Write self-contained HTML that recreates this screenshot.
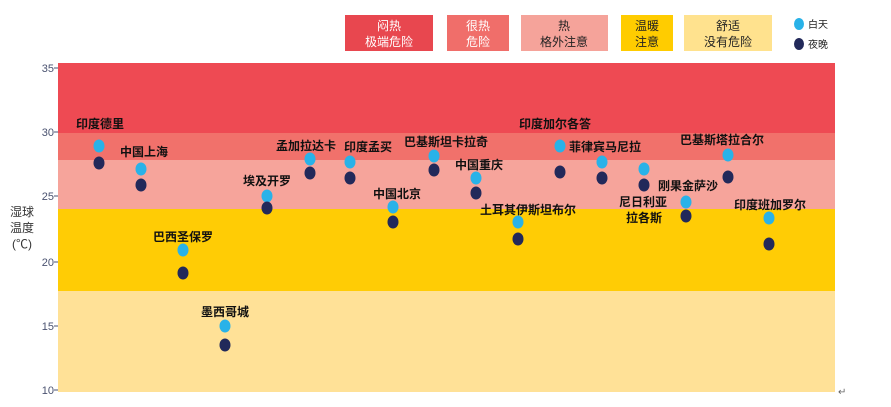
<!DOCTYPE html>
<html><head><meta charset="utf-8"><style>
html,body{margin:0;padding:0;background:#fff;}
svg{display:block;font-family:"Liberation Sans","Noto Sans CJK SC",sans-serif;}
</style></head><body>
<svg width="891" height="407" viewBox="0 0 891 407" xmlns="http://www.w3.org/2000/svg">
<!-- legend -->
<rect x="345" y="15" width="88" height="36" fill="#e8474f"/>
<text x="389" y="30" font-size="12" fill="#fff" text-anchor="middle">闷热</text>
<text x="389" y="46" font-size="12" fill="#fff" text-anchor="middle">极端危险</text>
<rect x="447" y="15" width="62" height="36" fill="#f06e6a"/>
<text x="478" y="30" font-size="12" fill="#fff" text-anchor="middle">很热</text>
<text x="478" y="46" font-size="12" fill="#fff" text-anchor="middle">危险</text>
<rect x="521" y="15" width="87" height="36" fill="#f5a39a"/>
<text x="564" y="30" font-size="12" fill="#222" text-anchor="middle">热</text>
<text x="564" y="46" font-size="12" fill="#222" text-anchor="middle">格外注意</text>
<rect x="621" y="15" width="52" height="36" fill="#ffcc00"/>
<text x="647" y="30" font-size="12" fill="#222" text-anchor="middle">温暖</text>
<text x="647" y="46" font-size="12" fill="#222" text-anchor="middle">注意</text>
<rect x="684" y="15" width="88" height="36" fill="#ffe28e"/>
<text x="728" y="30" font-size="12" fill="#222" text-anchor="middle">舒适</text>
<text x="728" y="46" font-size="12" fill="#222" text-anchor="middle">没有危险</text>
<ellipse cx="799" cy="24" rx="5" ry="6" fill="#29b2e8"/>
<text x="808" y="28" font-size="10" fill="#222">白天</text>
<ellipse cx="799" cy="44" rx="5" ry="6" fill="#22295a"/>
<text x="808" y="48" font-size="10" fill="#222">夜晚</text>
<!-- bands -->
<rect x="58" y="63" width="777" height="70" fill="#ee4a53"/>
<rect x="58" y="133" width="777" height="27" fill="#f1716b"/>
<rect x="58" y="160" width="777" height="49" fill="#f6a49b"/>
<rect x="58" y="209" width="777" height="82" fill="#ffcc05"/>
<rect x="58" y="291" width="777" height="101" fill="#ffe197"/>
<!-- axis -->
<g font-size="11" fill="#4a5270" text-anchor="end">
<text x="54" y="72">35</text><line x1="54" y1="68" x2="58" y2="68" stroke="#4a5270"/>
<text x="54" y="136">30</text><line x1="54" y1="132" x2="58" y2="132" stroke="#4a5270"/>
<text x="54" y="200">25</text><line x1="54" y1="196" x2="58" y2="196" stroke="#4a5270"/>
<text x="54" y="266">20</text><line x1="54" y1="262" x2="58" y2="262" stroke="#4a5270"/>
<text x="54" y="330">15</text><line x1="54" y1="326" x2="58" y2="326" stroke="#4a5270"/>
<text x="54" y="394">10</text><line x1="54" y1="390" x2="58" y2="390" stroke="#4a5270"/>
</g>
<text x="10" y="216" font-size="12" fill="#333">湿球</text>
<text x="10" y="232" font-size="12" fill="#333">温度</text>
<text x="12" y="248" font-size="12" fill="#333">(℃)</text>
<text x="838" y="395" font-size="10" fill="#666">↵</text>
<!-- labels -->
<g font-size="12" fill="#111" font-weight="bold">
<text x="76" y="128">印度德里</text>
<text x="120" y="156">中国上海</text>
<text x="153" y="241">巴西圣保罗</text>
<text x="201" y="316">墨西哥城</text>
<text x="243" y="185">埃及开罗</text>
<text x="276" y="150">孟加拉达卡</text>
<text x="344" y="151">印度孟买</text>
<text x="373" y="198">中国北京</text>
<text x="404" y="146">巴基斯坦卡拉奇</text>
<text x="455" y="169">中国重庆</text>
<text x="480" y="214">土耳其伊斯坦布尔</text>
<text x="519" y="128">印度加尔各答</text>
<text x="569" y="151">菲律宾马尼拉</text>
<text x="619" y="206">尼日利亚</text>
<text x="626" y="222">拉各斯</text>
<text x="658" y="190">刚果金萨沙</text>
<text x="680" y="144">巴基斯塔拉合尔</text>
<text x="734" y="209">印度班加罗尔</text>
</g>
<!-- dots -->
<g fill="#29b2e8">
<ellipse cx="99" cy="146" rx="5.5" ry="6.5"/>
<ellipse cx="141" cy="169" rx="5.5" ry="6.5"/>
<ellipse cx="183" cy="250" rx="5.5" ry="6.5"/>
<ellipse cx="225" cy="326" rx="5.5" ry="6.5"/>
<ellipse cx="267" cy="196" rx="5.5" ry="6.5"/>
<ellipse cx="310" cy="159" rx="5.5" ry="6.5"/>
<ellipse cx="350" cy="162" rx="5.5" ry="6.5"/>
<ellipse cx="393" cy="207" rx="5.5" ry="6.5"/>
<ellipse cx="434" cy="156" rx="5.5" ry="6.5"/>
<ellipse cx="476" cy="178" rx="5.5" ry="6.5"/>
<ellipse cx="518" cy="222" rx="5.5" ry="6.5"/>
<ellipse cx="560" cy="146" rx="5.5" ry="6.5"/>
<ellipse cx="602" cy="162" rx="5.5" ry="6.5"/>
<ellipse cx="644" cy="169" rx="5.5" ry="6.5"/>
<ellipse cx="686" cy="202" rx="5.5" ry="6.5"/>
<ellipse cx="728" cy="155" rx="5.5" ry="6.5"/>
<ellipse cx="769" cy="218" rx="5.5" ry="6.5"/>
</g>
<g fill="#22295a">
<ellipse cx="99" cy="163" rx="5.5" ry="6.5"/>
<ellipse cx="141" cy="185" rx="5.5" ry="6.5"/>
<ellipse cx="183" cy="273" rx="5.5" ry="6.5"/>
<ellipse cx="225" cy="345" rx="5.5" ry="6.5"/>
<ellipse cx="267" cy="208" rx="5.5" ry="6.5"/>
<ellipse cx="310" cy="173" rx="5.5" ry="6.5"/>
<ellipse cx="350" cy="178" rx="5.5" ry="6.5"/>
<ellipse cx="393" cy="222" rx="5.5" ry="6.5"/>
<ellipse cx="434" cy="170" rx="5.5" ry="6.5"/>
<ellipse cx="476" cy="193" rx="5.5" ry="6.5"/>
<ellipse cx="518" cy="239" rx="5.5" ry="6.5"/>
<ellipse cx="560" cy="172" rx="5.5" ry="6.5"/>
<ellipse cx="602" cy="178" rx="5.5" ry="6.5"/>
<ellipse cx="644" cy="185" rx="5.5" ry="6.5"/>
<ellipse cx="686" cy="216" rx="5.5" ry="6.5"/>
<ellipse cx="728" cy="177" rx="5.5" ry="6.5"/>
<ellipse cx="769" cy="244" rx="5.5" ry="6.5"/>
</g>
</svg>
</body></html>
